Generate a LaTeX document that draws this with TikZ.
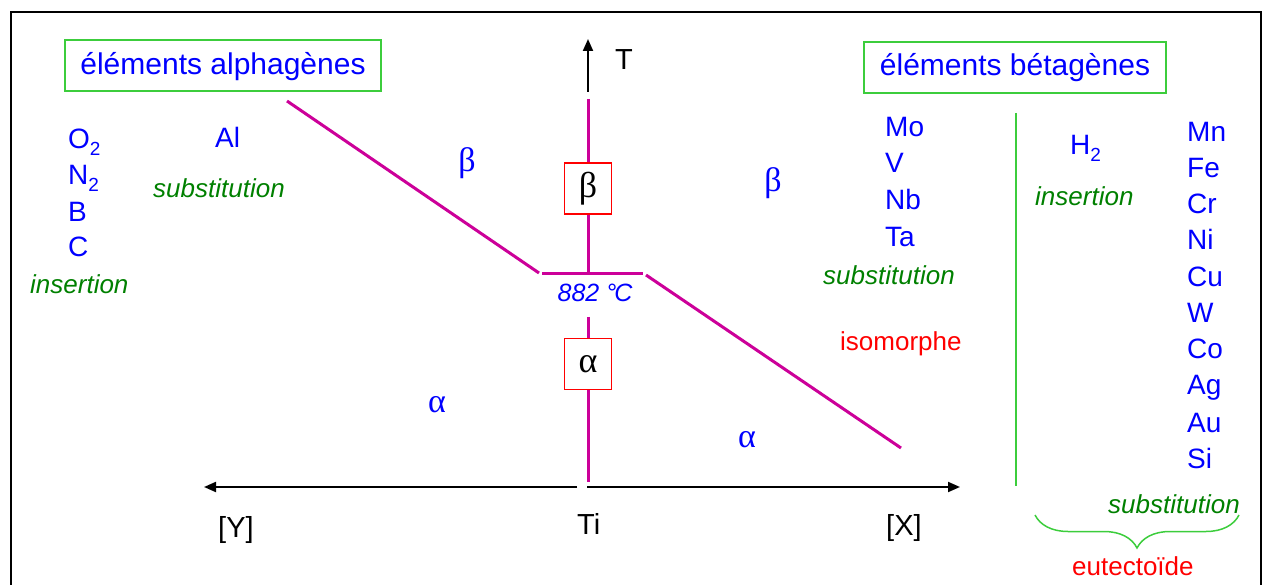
\documentclass[tikz,border=0pt]{standalone}
\usepackage{fontspec}
\setmainfont{Liberation Sans}
\newfontfamily\grk{Liberation Serif}
\usetikzlibrary{arrows.meta,decorations.pathreplacing}
\definecolor{elblue}{RGB}{0,0,255}
\definecolor{grtxt}{RGB}{0,128,0}
\definecolor{grbox}{RGB}{60,205,60}
\definecolor{pinkline}{RGB}{204,0,153}
\definecolor{rd}{RGB}{255,0,0}
\newcommand{\subtwo}{\raisebox{-7pt}{\fontsize{19}{19}\selectfont 2}}
\begin{document}
\begin{tikzpicture}[x=1pt,y=-1pt,
  el/.style={font=\fontsize{28}{30}\selectfont, text=elblue, inner sep=0, anchor=base west},
  mode/.style={font=\fontsize{26}{28}\selectfont\itshape, text=grtxt, inner sep=0, anchor=base west},
  kind/.style={font=\fontsize{26}{28}\selectfont, text=rd, inner sep=0, anchor=base west},
  axlbl/.style={font=\fontsize{29}{30}\selectfont, text=black, inner sep=0, anchor=base west},
  phase/.style={font=\fontsize{34}{36}\selectfont\grk, text=elblue, inner sep=0},
  gbox/.style={draw=grbox, line width=1.5pt, font=\fontsize{30}{32}\selectfont, text=elblue, inner sep=0, text height=22pt, text depth=3pt, minimum height=51pt},
  rbox/.style={draw=rd, line width=1.5pt, fill=white, font=\fontsize{36}{38}\selectfont\grk, text=black, inner sep=0, minimum width=47pt, minimum height=51pt},
  pk/.style={draw=pinkline, line width=3pt},
  ax/.style={draw=black, line width=2pt, -{Triangle[length=12pt,width=10pt]}}
]
\useasboundingbox (0,0) rectangle (1262,585);
% frame
\draw[line width=2.5pt] (11,600) -- (11,12) -- (1261,12) -- (1261,600);

% title boxes
\node[gbox, minimum width=316pt] (alphabox) at (223,65.5) {éléments alphagènes};
\node[gbox, minimum width=302pt, text height=21pt, text depth=4pt] (betabox) at (1015,67.5) {éléments bétagènes};

% left column
\node[el] (o2) at (68,149) {O\subtwo};
\node[el] (n2) at (68,185) {N\subtwo};
\node[el] (b) at (68,222) {B};
\node[el] (c) at (68,257) {C};
\node[mode] (insl) at (30,294) {insertion};
\node[el] (al) at (215,148) {Al};
\node[mode] (subl) at (153,198) {substitution};

% centre column
\node[el] (mo) at (885,137) {Mo};
\node[el] (v) at (885,173) {V};
\node[el] (nb) at (885,210) {Nb};
\node[el] (ta) at (885,247) {Ta};
\node[mode] (subm) at (823,285) {substitution};
\node[kind] (iso) at (840,351) {isomorphe};

% right part
\coordinate (gtop) at (1016,113);
\coordinate (gbot) at (1016,486);
\draw[draw=grbox, line width=1.5pt] (gtop) -- (gbot);
\node[el] (h2) at (1070,155) {H\subtwo};
\node[mode] (insr) at (1035,206) {insertion};
\foreach \s/\y [count=\i] in {Mn/142,Fe/178,Cr/214,Ni/250,Cu/287,W/323,Co/359,Ag/395,Au/432,Si/468}
  \node[el] (r\i) at (1187,\y) {\s};
\node[mode] (subr) at (1108,513) {substitution};
\coordinate (brl) at (1035,515);
\coordinate (brr) at (1239,515);
\draw[draw=grbox, line width=1.5pt, decorate, decoration={brace, mirror, amplitude=33pt, aspect=0.5}] (brl) -- (brr);
\node[kind] (eut) at (1072,575) {eutectoïde};

% axes
\coordinate (o) at (588,487);
\coordinate (xl) at (577,487);
\coordinate (xr) at (587,487);
\coordinate (yend) at (204,487);
\coordinate (xend) at (960,487);
\draw[ax] (xl) -- (yend);
\draw[ax] (xr) -- (xend);
\coordinate (tb) at (588,92);
\coordinate (tt) at (588,39);
\draw[ax] (tb) -- (tt);
\node[axlbl] (tlbl) at (615,70) {T};
\node[axlbl] (ti) at (577,534) {Ti};
\node[axlbl] (ylbl) at (218,537) {[Y]};
\node[axlbl] (xlbl) at (886,535) {[X]};

% phase boxes
\node[rbox] (bbox) at (588,188.5) {β};
\node[rbox] (abox) at (588,364) {α};

% pink lines
\coordinate (vt) at (588,99);
\coordinate (vm) at (588,272);
\coordinate (v2) at (588,317);
\coordinate (vb) at (588,482);
\coordinate (hl) at (542,274);
\coordinate (hr) at (643,274);
\coordinate (dl1) at (287,101);
\coordinate (dl2) at (539,273);
\coordinate (dr1) at (646,275);
\coordinate (dr2) at (901,448);
\draw[pk] (vt) -- (bbox.north);
\draw[pk] (bbox.south) -- (vm);
\draw[pk] (hl) -- (hr);
\draw[pk] (dl1) -- (dl2);
\draw[pk] (dr1) -- (dr2);
\draw[pk] (v2) -- (abox.north);
\draw[pk] (abox.south) -- (vb);
\node[font=\fontsize{25}{26}\selectfont\itshape, text=elblue, inner sep=0, anchor=base] (temp) at (595,302) {882 °\kern-2pt C};

% phase labels
\node[phase] (bl) at (467,163) {β};
\node[phase] (br) at (773,183) {β};
\node[phase] (alf) at (437,405) {α};
\node[phase] (ar) at (747,440) {α};
\end{tikzpicture}
\end{document}
